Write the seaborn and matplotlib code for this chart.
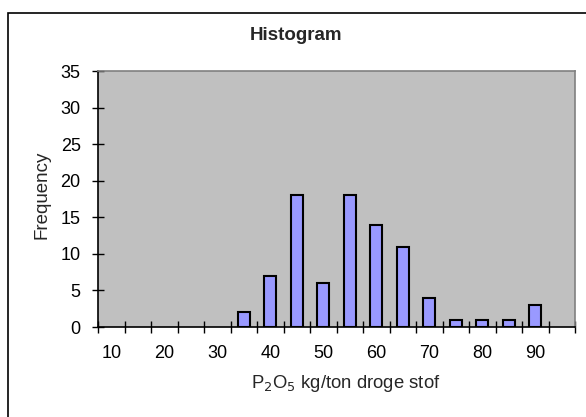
import matplotlib
matplotlib.use("Agg")
import matplotlib.pyplot as plt
import seaborn as sns
import pandas as pd
from matplotlib.patches import Rectangle
from matplotlib.ticker import FixedLocator

categories = ["10", "15", "20", "25", "30", "35", "40", "45", "50", "55",
              "60", "65", "70", "75", "80", "85", "90", "More"]
frequency = [0, 0, 0, 0, 0, 2, 7, 18, 6, 18, 14, 11, 4, 1, 1, 1, 3, 0]
y_ticks = [0, 5, 10, 15, 20, 25, 30, 35]

df = pd.DataFrame({"bin": categories, "freq": frequency})

sns.set_style("white")
plt.rcParams['font.family'] = ['Liberation Sans', 'DejaVu Sans']

FS = 13
W, H = 586, 417
fig = plt.figure(figsize=(W / 100, H / 100), dpi=100)
ax = fig.add_axes([98 / W, (H - 327) / H, (575 - 98) / W, (327 - 71) / H])
ax.set_facecolor("#C0C0C0")

sns.barplot(data=df, x="bin", y="freq", order=categories, color="#9999FF",
            saturation=1, width=0.45, edgecolor="black", linewidth=1.5, ax=ax)
for p in ax.patches:
    if p.get_height() == 0:
        p.set_visible(False)

ax.set_xlim(-0.5, len(categories) - 0.5)
ax.set_ylim(0, 35)
ax.set_yticks(y_ticks)
ax.set_yticklabels([str(v) for v in y_ticks], fontsize=FS)

major = list(range(0, len(categories), 2))
ax.set_xticks(major)
ax.set_xticklabels([categories[i] for i in major], fontsize=FS)
ax.xaxis.set_minor_locator(FixedLocator([i - 0.5 for i in range(len(categories) + 1)]))
ax.tick_params(which="both", bottom=True, left=True, top=False, right=False)
ax.tick_params(axis="x", which="major", length=0, pad=13)
ax.tick_params(axis="x", which="minor", direction="inout", length=9, width=1, color="black")
ax.tick_params(axis="y", which="major", direction="inout", length=9, width=1, color="black", pad=8)
ax.tick_params(axis="both", labelcolor="black")

for s in ["top", "right"]:
    ax.spines[s].set_color("#808080")
    ax.spines[s].set_linewidth(1.2)
for s in ["left", "bottom"]:
    ax.spines[s].set_color("black")
    ax.spines[s].set_linewidth(1.2)

ax.set_ylabel("Frequency", fontsize=13.5, va="center")
ax.yaxis.set_label_coords((42 - 98) / 477, (327 - 195) / 256)
ax.set_xlabel(r"P$_2$O$_5$ kg/ton droge stof", fontsize=13.3, va="center")
ax.xaxis.set_label_coords((346 - 98) / 477, (327 - 384) / 256)

fig.text(296 / W, 1 - 36 / H, "Histogram", ha="center", va="center",
         fontsize=13.5, fontweight="bold")

fig.patches.append(Rectangle((8 / W, -0.05), 1.0, 1 - 13 / H + 0.05,
                             transform=fig.transFigure, fill=False,
                             edgecolor="black", linewidth=1.2))

fig.savefig("out.png", dpi=100)
